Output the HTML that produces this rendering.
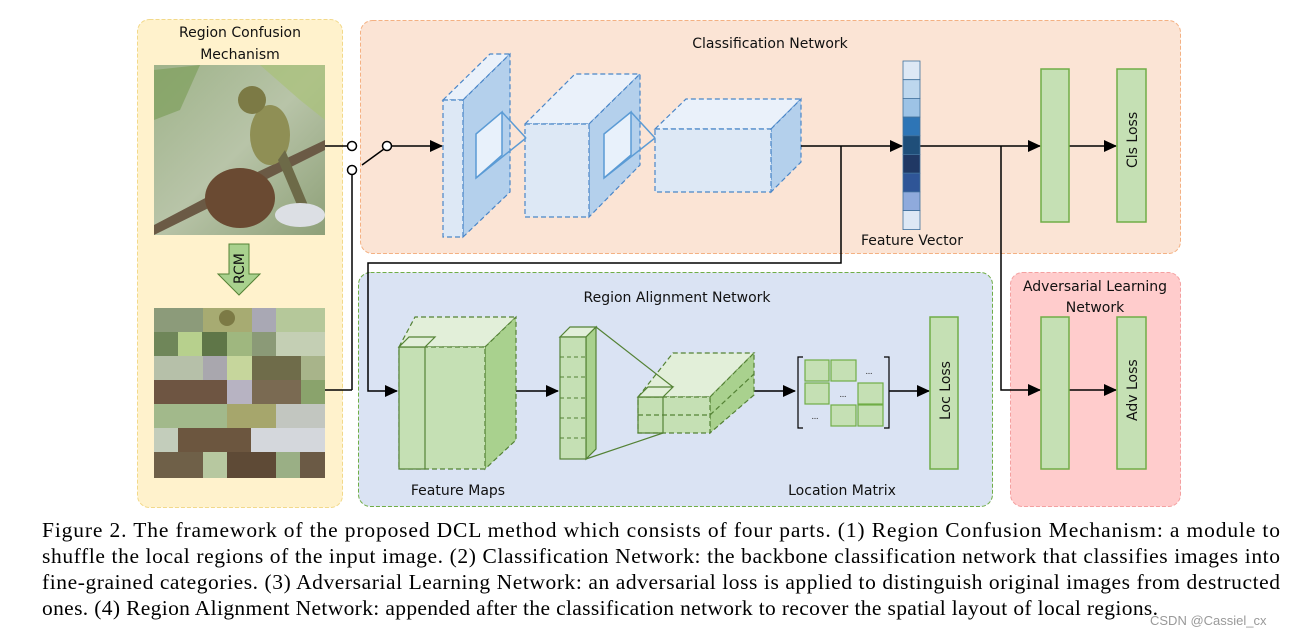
<!DOCTYPE html>
<html><head><meta charset="utf-8"><style>
html,body{margin:0;padding:0;background:#fff;}
svg{display:block}
.c{font-family:"DejaVu Sans","Liberation Sans",sans-serif;font-size:14px;fill:#111}
.cap{font-family:"Liberation Serif",serif;font-size:21.5px;fill:#000}
</style></head><body>
<svg width="1301" height="636" viewBox="0 0 1301 636" xmlns="http://www.w3.org/2000/svg">
<defs>
<marker id="ar" markerWidth="13" markerHeight="12" refX="12" refY="6" orient="auto" markerUnits="userSpaceOnUse"><path d="M0,0 L13,6 L0,12 z" fill="#000"/></marker>
<linearGradient id="bg1" x1="0" y1="0" x2="1" y2="1"><stop offset="0" stop-color="#9fb38a"/><stop offset="0.5" stop-color="#b8c4a8"/><stop offset="1" stop-color="#8ea078"/></linearGradient>
</defs>
<rect x="137.5" y="19.5" width="205" height="488" rx="12" fill="#fff2cc" stroke="#f2d98a" stroke-dasharray="4,2"/>
<rect x="360.5" y="20.5" width="820" height="233" rx="12" fill="#fbe4d5" stroke="#f4b183" stroke-dasharray="4,2"/>
<rect x="358.5" y="272.5" width="634" height="234" rx="12" fill="#dae3f3" stroke="#70ad47" stroke-dasharray="4,2"/>
<rect x="1010.5" y="272.5" width="170" height="234" rx="12" fill="#ffcccc" stroke="#f4a0a0" stroke-dasharray="4,2"/>
<text class="c" x="240" y="37" text-anchor="middle">Region Confusion</text>
<text class="c" x="240" y="59" text-anchor="middle">Mechanism</text>
<text class="c" x="770" y="48" text-anchor="middle">Classification  Network</text>
<text class="c" x="677" y="302" text-anchor="middle">Region Alignment Network</text>
<text class="c" x="1095" y="291" text-anchor="middle">Adversarial Learning</text>
<text class="c" x="1095" y="312" text-anchor="middle">Network</text>
<rect x="154" y="65" width="171" height="170" fill="url(#bg1)"/>
<path d="M154,70 L200,65 L180,110 L154,120 z" fill="#7fa05c" opacity="0.7"/>
<path d="M260,65 L325,65 L325,120 L300,100 z" fill="#a9c279" opacity="0.7"/>
<path d="M154,225 L230,185 L325,140 L325,150 L235,195 L154,235 z" fill="#6b5a45"/>
<ellipse cx="240" cy="198" rx="35" ry="30" fill="#6a4a32"/>
<ellipse cx="270" cy="135" rx="20" ry="30" fill="#8f8f55"/>
<circle cx="252" cy="100" r="14" fill="#7c7a45"/>
<path d="M285,150 L310,210 L300,212 L278,160 z" fill="#6d6a48"/>
<ellipse cx="300" cy="215" rx="25" ry="12" fill="#dcdfe4"/>
<path d="M229,244 H249 V274 H260 L239,295 L218,274 H229 z" fill="#a9d18e" stroke="#548235"/>
<text class="c" x="0" y="0" transform="translate(244,284) rotate(-90)" font-size="13">RCM</text>
<g>
<rect x="154" y="308" width="171" height="170" fill="#a6b493"/>
<rect x="154" y="308" width="49" height="24" fill="#8c9b7a"/><rect x="203" y="308" width="49" height="24" fill="#a7ab72"/><rect x="252" y="308" width="24" height="24" fill="#a9a8b4"/><rect x="276" y="308" width="49" height="24" fill="#b5c89a"/>
<circle cx="227" cy="318" r="8" fill="#7c7a45"/>
<rect x="154" y="332" width="24" height="24" fill="#6f8659"/><rect x="178" y="332" width="24" height="24" fill="#b7d08d"/><rect x="202" y="332" width="25" height="24" fill="#5f7648"/><rect x="227" y="332" width="25" height="24" fill="#9fb77f"/><rect x="252" y="332" width="24" height="24" fill="#8b9a77"/><rect x="276" y="332" width="49" height="24" fill="#c4cfb4"/>
<rect x="154" y="356" width="49" height="24" fill="#b6c0a9"/><rect x="203" y="356" width="24" height="24" fill="#a9a7ae"/><rect x="227" y="356" width="25" height="24" fill="#c6d69c"/><rect x="252" y="356" width="49" height="24" fill="#6f6c4a"/><rect x="301" y="356" width="24" height="24" fill="#a8b48a"/>
<rect x="154" y="380" width="73" height="24" fill="#6e5542"/><rect x="227" y="380" width="25" height="24" fill="#b7b3c2"/><rect x="252" y="380" width="49" height="24" fill="#7a6a52"/><rect x="301" y="380" width="24" height="24" fill="#8aa36c"/>
<rect x="154" y="404" width="73" height="24" fill="#a2b98b"/><rect x="227" y="404" width="49" height="24" fill="#a6a66c"/><rect x="276" y="404" width="49" height="24" fill="#c2c6c0"/>
<rect x="154" y="428" width="24" height="24" fill="#c3cdbb"/><rect x="178" y="428" width="73" height="24" fill="#6c563f"/><rect x="251" y="428" width="74" height="24" fill="#d4d7dc"/>
<rect x="154" y="452" width="49" height="26" fill="#6f6048"/><rect x="203" y="452" width="24" height="26" fill="#b7c8a0"/><rect x="227" y="452" width="49" height="26" fill="#5e4a36"/><rect x="276" y="452" width="24" height="26" fill="#9aaf85"/><rect x="300" y="452" width="25" height="26" fill="#6b5a45"/>
</g>
<g stroke="#000" stroke-width="1.5" fill="none">
<line x1="325" y1="146" x2="348" y2="146"/>
<line x1="325" y1="390" x2="352" y2="390"/><line x1="352" y1="390" x2="352" y2="175"/>
<line x1="362" y1="165" x2="384" y2="149"/>
<line x1="392" y1="146" x2="442" y2="146" marker-end="url(#ar)"/>
</g>
<circle cx="352" cy="146" r="4.5" fill="#fff" stroke="#000" stroke-width="1.5"/>
<circle cx="352" cy="170" r="4.5" fill="#fff" stroke="#000" stroke-width="1.5"/>
<circle cx="387" cy="146" r="4.5" fill="#fff" stroke="#000" stroke-width="1.5"/>
<g stroke="#4a86c8" stroke-width="1.2" stroke-dasharray="5,3">
<polygon points="443,100 490,54 510,54 463,100" fill="#eaf1fa"/>
<polygon points="463,100 510,54 510,192 463,237" fill="#b4d0ec"/>
<rect x="443" y="100" width="20" height="137" fill="#dde8f5"/>
<polygon points="525,124 575,74 640,74 589,124" fill="#eaf1fa"/>
<polygon points="589,124 640,74 640,165 589,217" fill="#b4d0ec"/>
<rect x="525" y="124" width="64" height="93" fill="#dde8f5"/>
<polygon points="655,129 686,99 801,99 771,129" fill="#eaf1fa"/>
<polygon points="771,129 801,99 801,162 771,192" fill="#b4d0ec"/>
<rect x="655" y="129" width="116" height="63" fill="#dde8f5"/>
</g>
<g stroke="#5b9bd5" stroke-width="1.5" fill="#e8f1fb">
<polygon points="476,134 502,112 502,155 476,178"/>
<line x1="502" y1="112" x2="526" y2="138"/><line x1="476" y1="178" x2="526" y2="138"/>
<polygon points="604,134 631,112 631,155 604,178"/>
<line x1="631" y1="112" x2="655" y2="138"/><line x1="604" y1="178" x2="655" y2="138"/>
</g>
<g stroke="#000" stroke-width="1.5" fill="none">
<line x1="801" y1="146" x2="902" y2="146" marker-end="url(#ar)"/>
<polyline points="841,146 841,263 368,263 368,391 397,391" marker-end="url(#ar)"/>
<line x1="920" y1="146" x2="1040" y2="146" marker-end="url(#ar)"/>
<polyline points="1001,146 1001,390 1040,390" marker-end="url(#ar)"/>
<line x1="1069" y1="146" x2="1116" y2="146" marker-end="url(#ar)"/>
<line x1="1069" y1="390" x2="1116" y2="390" marker-end="url(#ar)"/>
<line x1="516" y1="391" x2="558" y2="391" marker-end="url(#ar)"/>
<line x1="754" y1="391" x2="795" y2="391" marker-end="url(#ar)"/>
<line x1="889" y1="391" x2="929" y2="391" marker-end="url(#ar)"/>
</g>
<g stroke="#41719c" stroke-width="0.8">
<rect x="903" y="61" width="17" height="18.7" fill="#dde8f5"/>
<rect x="903" y="79.7" width="17" height="18.7" fill="#bdd7ee"/>
<rect x="903" y="98.4" width="17" height="18.7" fill="#9dc3e6"/>
<rect x="903" y="117.1" width="17" height="18.7" fill="#2e75b6"/>
<rect x="903" y="135.8" width="17" height="18.7" fill="#1f4e79"/>
<rect x="903" y="154.5" width="17" height="18.7" fill="#203864"/>
<rect x="903" y="173.2" width="17" height="18.7" fill="#2f5597"/>
<rect x="903" y="191.9" width="17" height="18.7" fill="#8faadc"/>
<rect x="903" y="210.6" width="17" height="19" fill="#dde8f5"/>
</g>
<text class="c" x="912" y="245" text-anchor="middle" font-size="13">Feature Vector</text>
<g fill="#c5e0b4" stroke="#70ad47" stroke-width="1.5">
<rect x="1041" y="69" width="28" height="153"/>
<rect x="1117" y="69" width="29" height="153"/>
<rect x="1041" y="317" width="28" height="152"/>
<rect x="1117" y="317" width="29" height="152"/>
<rect x="930" y="317" width="28" height="152"/>
</g>
<text class="c" transform="translate(1137,168) rotate(-90)" font-size="13">Cls Loss</text>
<text class="c" transform="translate(1137,421) rotate(-90)" font-size="13">Adv Loss</text>
<text class="c" transform="translate(950,420) rotate(-90)" font-size="13">Loc Loss</text>
<g stroke="#548235" stroke-width="1.2" stroke-dasharray="5,3">
<polygon points="399,347 415,317 516,317 485,347" fill="#e2efd9"/>
<polygon points="485,347 516,317 516,440 485,469" fill="#a9d18e"/>
<rect x="399" y="347" width="86" height="122" fill="#c5e0b4"/>
</g>
<g stroke="#548235" stroke-width="1.2" fill="none">
<rect x="399" y="347" width="26" height="122" fill="#c5e0b4"/>
<polygon points="399,347 409,337 435,337 425,347" fill="#e2efd9"/>
</g>
<g stroke="#548235" stroke-width="1.2">
<polygon points="560,337 570,327 596,327 586,337" fill="#e2efd9"/>
<polygon points="586,337 596,327 596,449 586,459" fill="#a9d18e"/>
<rect x="560" y="337" width="26" height="122" fill="#c5e0b4"/>
</g>
<g stroke="#548235" stroke-width="1" stroke-dasharray="4,3">
<line x1="560" y1="357" x2="586" y2="357"/><line x1="560" y1="377" x2="586" y2="377"/><line x1="560" y1="398" x2="586" y2="398"/><line x1="560" y1="418" x2="586" y2="418"/><line x1="560" y1="438" x2="586" y2="438"/>
</g>
<g stroke="#548235" stroke-width="1.2" stroke-dasharray="5,3">
<polygon points="638,397 673,353 754,353 710,397" fill="#e2efd9"/>
<polygon points="710,397 754,353 754,395 710,433" fill="#a9d18e"/>
<rect x="638" y="397" width="72" height="36" fill="#c5e0b4"/>
<line x1="638" y1="415" x2="710" y2="415"/>
<line x1="710" y1="415" x2="754" y2="374"/>
</g>
<g stroke="#548235" stroke-width="1.2" fill="none">
<rect x="638" y="397" width="25" height="36"/>
<polygon points="638,397 648,387 673,387 663,397" fill="#e2efd9"/>
<line x1="596" y1="327" x2="673" y2="387"/>
<line x1="586" y1="459" x2="663" y2="433"/>
</g>
<g stroke="#000" stroke-width="1.2" fill="none">
<polyline points="803,357 798,357 798,428 803,428"/>
<polyline points="884,357 889,357 889,428 884,428"/>
</g>
<g fill="#c5e0b4" stroke="#70ad47" stroke-width="1.2">
<rect x="805" y="360" width="24" height="21"/><rect x="831" y="360" width="25" height="21"/>
<rect x="805" y="383" width="24" height="21"/><rect x="858" y="383" width="25" height="21"/>
<rect x="831" y="405" width="25" height="21"/><rect x="858" y="405" width="25" height="21"/>
</g>
<text x="869" y="374" font-size="9" text-anchor="middle" fill="#333">...</text>
<text x="843" y="397" font-size="9" text-anchor="middle" fill="#333">...</text>
<text x="815" y="419" font-size="9" text-anchor="middle" fill="#333">...</text>
<text class="c" x="458" y="495" text-anchor="middle">Feature Maps</text>
<text class="c" x="842" y="495" text-anchor="middle">Location Matrix</text>
<text class="cap" x="42" y="537" textLength="1238" lengthAdjust="spacing">Figure 2. The framework of the proposed DCL method which consists of four parts.  (1) Region Confusion Mechanism:  a module to</text>
<text class="cap" x="42" y="563" textLength="1238" lengthAdjust="spacing">shuffle the local regions of the input image.  (2) Classification Network:  the backbone classification network that classifies images into</text>
<text class="cap" x="42" y="589" textLength="1238" lengthAdjust="spacing">fine-grained categories.  (3) Adversarial Learning Network:  an adversarial loss is applied to distinguish original images from destructed</text>
<text class="cap" x="42" y="615" textLength="1116" lengthAdjust="spacing">ones.  (4) Region Alignment Network:  appended after the classification network to recover the spatial layout of local regions.</text>
<text x="1150" y="625" font-family="Liberation Sans,sans-serif" font-size="13" fill="#999">CSDN @Cassiel_cx</text>
</svg>
</body></html>
